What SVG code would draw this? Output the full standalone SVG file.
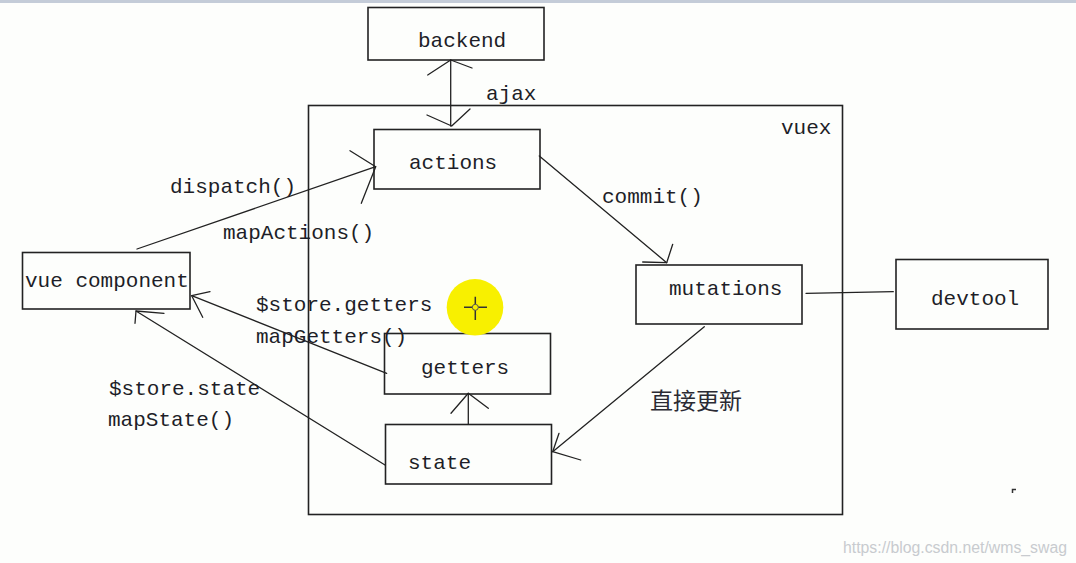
<svg xmlns="http://www.w3.org/2000/svg" width="1076" height="563" viewBox="0 0 1076 563">
<style>
.box{fill:none;stroke:#222;stroke-width:1.6}
.t{font-family:"Liberation Mono","Noto Sans CJK SC",monospace;font-size:21px;fill:#1e1e28}
.cjk{font-family:"Noto Sans CJK SC",sans-serif;font-size:23px;fill:#2a2a33}
.ln{fill:none;stroke:#222;stroke-width:1.3;stroke-linecap:round;stroke-linejoin:round}
.wm{font-family:"Liberation Sans","DejaVu Sans",sans-serif;font-size:16px;fill:#c8cbcf}
</style>
<rect x="0" y="0" width="1076" height="563" fill="#fdfefc"/>
<rect x="0" y="0" width="1076" height="3" fill="#c4ccd8"/>

<g id="vuex">
<rect class="box" x="308.5" y="105.5" width="534" height="409"/>
<text class="t" x="781" y="134">vuex</text>
</g>

<g id="backend">
<rect class="box" x="368" y="7.5" width="176" height="52.5"/>
<text class="t" x="418" y="47">backend</text>
</g>

<g id="actions">
<rect class="box" x="374" y="129.5" width="166" height="59.5"/>
<text class="t" x="409" y="169">actions</text>
</g>

<g id="mutations">
<rect class="box" x="636" y="265" width="166" height="59"/>
<text class="t" x="669" y="295">mutations</text>
</g>

<g id="devtool">
<rect class="box" x="896" y="259.5" width="152" height="69.5"/>
<text class="t" x="931" y="305">devtool</text>
</g>

<g id="vue-component">
<rect class="box" x="22.5" y="252.5" width="167.5" height="56.5"/>
<text class="t" x="25" y="287">vue component</text>
</g>

<g id="getters">
<rect class="box" x="384.5" y="333.5" width="166" height="60.5"/>
<text class="t" x="421" y="374">getters</text>
</g>

<g id="state">
<rect class="box" x="385.5" y="424.5" width="166" height="59.5"/>
<text class="t" x="408" y="469">state</text>
</g>

<g id="connectors">
<!-- ajax -->
<path class="ln" d="M450.7,60 L450.7,126"/>
<path class="ln" d="M427.7,75 L450.7,60 L472,68"/>
<path class="ln" d="M427,115 L451.7,126 L470,109"/>
<text class="t" x="486" y="100">ajax</text>
<!-- dispatch -->
<path class="ln" d="M137,249 L375.7,166.7"/>
<path class="ln" d="M350,150.7 L375.7,166.7 L361.3,203.3"/>
<text class="t" x="170" y="193">dispatch()</text>
<text class="t" x="223" y="239">mapActions()</text>
<!-- commit -->
<path class="ln" d="M539.3,156 L666.7,262.7"/>
<path class="ln" d="M642.7,262 L666.7,262.7 L672.7,244.3"/>
<text class="t" x="602" y="203">commit()</text>
<!-- devtool link -->
<path class="ln" d="M806,293.3 L893.3,291.7"/>
<!-- mutations to state -->
<path class="ln" d="M704.3,326.7 L552.7,451.7"/>
<path class="ln" d="M559,433.3 L552.7,451.7 L580.7,460"/>
<text class="cjk" x="650" y="409">直接更新</text>
<!-- state to getters -->
<path class="ln" d="M468.3,424 L468.3,393.3"/>
<path class="ln" d="M451,413.3 L468.3,393.3 L488.3,408.3"/>
<!-- getters to vue component -->
<path class="ln" d="M386.7,373.3 L191.7,295.7"/>
<path class="ln" d="M210,291.7 L191.7,295.7 L202.7,317.3"/>
<text class="t" x="256" y="311">$store.getters</text>
<text class="t" x="256" y="343">mapGetters()</text>
<!-- state to vue component -->
<path class="ln" d="M385,465 L136,311"/>
<path class="ln" d="M164,313.3 L136,311 L135,323.3"/>
<text class="t" x="109" y="395">$store.state</text>
<text class="t" x="108" y="426">mapState()</text>
</g>

<!-- cursor highlight -->
<circle cx="475" cy="307.3" r="28.3" fill="#f8f000"/>
<path d="M464,307.3 H487 M475.3,296.7 V320" stroke="#333" stroke-width="1.5"/>
<circle cx="475.3" cy="307.3" r="3" fill="#f8f000" stroke="#555" stroke-width="1"/>
<path d="M1012.5,493 V489.5 H1016" stroke="#333" stroke-width="1.5" fill="none"/>

<text class="wm" x="843" y="553" textLength="224" lengthAdjust="spacingAndGlyphs">https://blog.csdn.net/wms_swag</text>
</svg>
